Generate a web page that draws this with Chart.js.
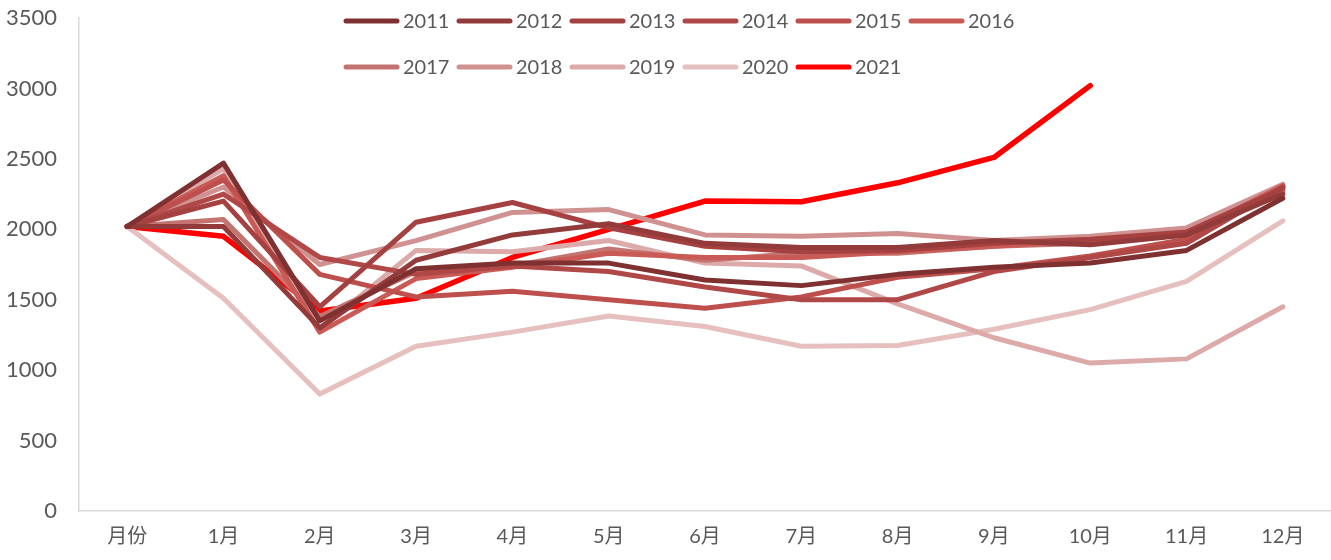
<!DOCTYPE html>
<html>
<head>
<meta charset="utf-8">
<script src="https://cdn.jsdelivr.net/npm/chart.js@4/dist/chart.umd.min.js"></script>
<style>
html,body{margin:0;padding:0;background:#fff;}
#wrap{width:1331px;height:560px;position:relative;}
</style>
</head>
<body>
<div id="wrap"><canvas id="c" width="1331" height="560"></canvas></div>
<script>
const categories = ["月份","1月","2月","3月","4月","5月","6月","7月","8月","9月","10月","11月","12月"];
const yTicks = [0,500,1000,1500,2000,2500,3000,3500];
const years = ["2011","2012","2013","2014","2015","2016","2017","2018","2019","2020","2021"];
const colors = ["#7f3030","#933a3a","#a54140","#b04848","#bd4f4d","#c95a55","#c47470","#d09290","#dbaaa9","#e5c0bf","#ff0000"];

const s2011 = [2020,2470,1350,1720,1760,1760,1640,1600,1680,1730,1760,1850,2220];
const s2012 = [2020,2020,1300,1780,1960,2040,1900,1870,1870,1920,1890,1960,2250];
const s2013 = [2020,2200,1450,2050,2190,2010,1880,1840,1850,1900,1930,1980,2290];
const s2014 = [2020,2250,1800,1680,1740,1700,1590,1500,1500,1700,1800,1900,2300];
const s2015 = [2020,2350,1680,1520,1560,1500,1440,1520,1660,1720,1810,1930,2300];
const s2016 = [2020,2380,1270,1650,1730,1830,1800,1800,1840,1880,1920,1960,2310];
const s2017 = [2020,2070,1380,1700,1740,1860,1780,1830,1830,1880,1900,1970,2270];
const s2018 = [2020,2300,1750,1920,2120,2140,1960,1950,1970,1920,1950,2010,2320];
const s2019 = [2020,2430,1290,1850,1840,1920,1760,1740,1470,1230,1050,1080,1450];
const s2020 = [2020,1510,830,1170,1270,1385,1310,1170,1175,1290,1430,1630,2060];
const s2021 = [2020,1950,1420,1510,1800,2000,2200,2195,2330,2510,3020,null,null];

const seriesValues = [s2011,s2012,s2013,s2014,s2015,s2016,s2017,s2018,s2019,s2020,s2021];

const FONT = "Lato, 'Noto Sans CJK SC', sans-serif";
const TXT = "#595959";

const datasets = years.map((y,i)=>({
  label: y,
  data: seriesValues[i],
  borderColor: colors[i],
  backgroundColor: colors[i],
  borderWidth: i===10 ? 5.5 : 5,
  pointRadius: 0,
  pointHoverRadius: 0,
  tension: 0,
  fill: false,
  borderJoinStyle: 'round',
  borderCapStyle: 'round',
  spanGaps: false
}));

const legendPlugin = {
  id: 'customLegend',
  afterDraw(chart){
    const ctx = chart.ctx;
    ctx.save();
    ctx.font = "20px " + FONT;
    ctx.textBaseline = 'middle';
    ctx.textAlign = 'left';
    const x0 = 346, step = 113, rows = [21, 67];
    chart.data.datasets.forEach((ds,i)=>{
      const row = i < 6 ? 0 : 1;
      const col = i < 6 ? i : i - 6;
      const x = x0 + col*step;
      const y = rows[row];
      ctx.strokeStyle = ds.borderColor;
      ctx.lineWidth = 5;
      ctx.lineCap = 'round';
      ctx.beginPath();
      ctx.moveTo(x, y);
      ctx.lineTo(x+51, y);
      ctx.stroke();
      ctx.fillStyle = TXT;
      ctx.fillText(ds.label, x+57, y+1);
    });
    ctx.restore();
  }
};

new Chart(document.getElementById('c'), {
  type: 'line',
  data: { labels: categories, datasets },
  options: {
    responsive: false,
    animation: false,
    layout: { padding: { top: 0, right: 0, left: 0, bottom: 0 } },
    plugins: { legend: { display: false }, tooltip: { enabled: false } },
    scales: {
      x: {
        type: 'category',
        offset: true,
        grid: { display: false, drawTicks: false },
        border: { display: true, color: '#d9d9d9', width: 1.5 },
        ticks: { color: TXT, font: { size: 20, family: FONT }, padding: 14, maxRotation: 0, autoSkip: false },
        afterFit(axis){ axis.height = 49; }
      },
      y: {
        min: 0, max: 3500,
        afterBuildTicks(axis){ axis.ticks = yTicks.map(v=>({value:v})); },
        grid: { display: false, drawTicks: false },
        border: { display: true, color: '#d9d9d9', width: 1.5 },
        ticks: { color: TXT, font: { size: 22, family: FONT }, padding: 22, callback: v => String(v) },
        afterFit(axis){ axis.width = 79; axis.paddingTop = 18; axis.paddingBottom = 0; }
      }
    }
  },
  plugins: [legendPlugin]
});
</script>
</body>
</html>
